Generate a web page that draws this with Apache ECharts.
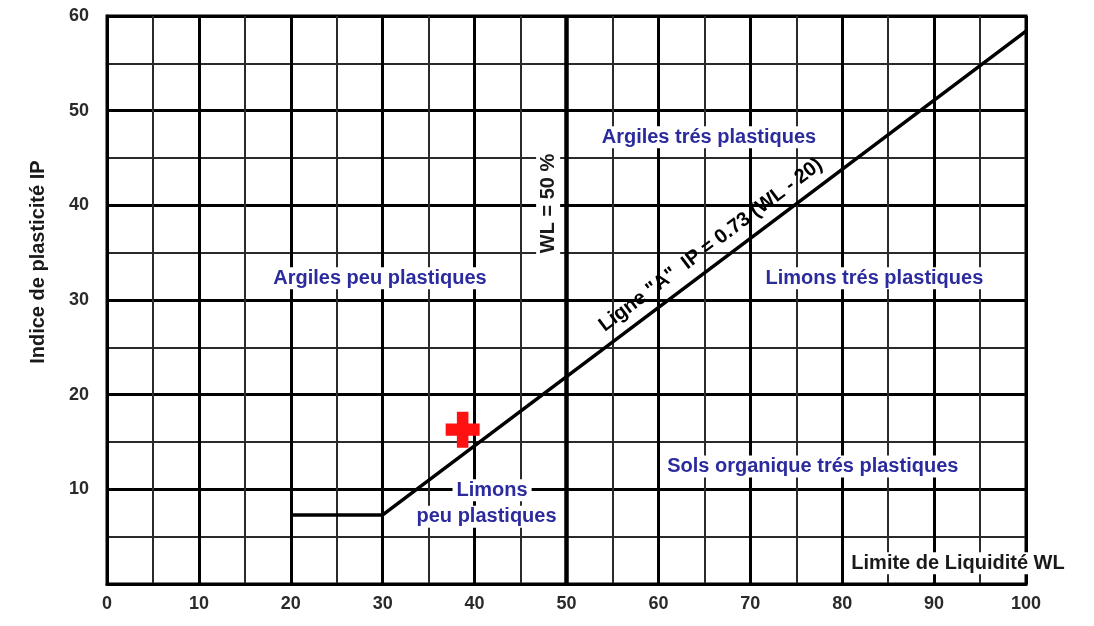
<!DOCTYPE html>
<html><head><meta charset="utf-8">
<script src="https://cdn.jsdelivr.net/npm/echarts@6.0.0/dist/echarts.min.js"></script>
<style>html,body{margin:0;padding:0;background:#fff}#c{width:1094px;height:626px}</style>
</head><body><div id="c"></div>
<script>
// Axis ranges
const xMin = 0, xMax = 100, xStep = 10;
const yMin = 0, yMax = 60, yStep = 10;

// Ligne "A" (with horizontal lower part)
const aLineX = [20, 30, 100];
const aLineY = [7.3, 7.3, 58.4];

// WL = 50 % boundary
const wlLineX = [50, 50];
const wlLineY = [0, 60];

// Sample point (red cross)
const pointX = [38.7];
const pointY = [16.3];

// Zone labels
const zoneText = ['Argiles peu plastiques', 'Argiles trés plastiques', 'Limons trés plastiques',
  'Sols organique trés plastiques', 'Limons', 'peu plastiques'];
const zoneX = [29.7, 65.5, 83.5, 76.8, 41.9, 41.3];
const zoneY = [32.3, 47.2, 32.3, 12.4, 9.9, 7.1];

// Other annotations
const noteText = ['WL = 50 %', 'Ligne "A"  IP = 0.73 (WL - 20)', 'Limite de Liquidité WL'];
const noteX = [48.0, 65.7, 92.6];
const noteY = [40.2, 35.8, 2.2];

const xAxisName = 'Limite de Liquidité WL';
const yAxisName = 'Indice de plasticité IP';

const FONT = '"Liberation Sans", Arial, sans-serif';
const BLUE = '#2b2b9e';

const chart = echarts.init(document.getElementById('c'), null, {renderer: 'canvas'});

const noteStyles = [
  {rotate: 90, color: '#1a1a1a', backgroundColor: '#fff', padding: [2, 3]},
  {rotate: 37, color: '#000', backgroundColor: 'transparent', padding: 0},
  {rotate: 0, color: '#1a1a1a', backgroundColor: '#fff', padding: [1, 3]}
];

const zoneData = zoneX.map((x, i) => ({
  value: [x, zoneY[i]],
  label: {show: true, position: 'inside', formatter: zoneText[i], color: BLUE,
    fontFamily: FONT, fontWeight: 'bold', fontSize: 20,
    backgroundColor: '#fff', padding: [1, 4]}
}));
const noteData = noteX.map((x, i) => ({
  value: [x, noteY[i]],
  label: Object.assign({show: true, position: 'inside', formatter: noteText[i],
    fontFamily: FONT, fontWeight: 'bold', fontSize: 20}, noteStyles[i])
}));

const axisCommon = {
  type: 'value',
  axisLine: {show: true, lineStyle: {color: '#000', width: 3}},
  axisTick: {show: false},
  splitLine: {show: true, lineStyle: {color: '#000', width: 3}},
  minorTick: {show: false, splitNumber: 2},
  minorSplitLine: {show: true, lineStyle: {color: '#2a2a2a', width: 2}},
  axisLabel: {color: '#2a2a2a', fontFamily: FONT, fontWeight: 'bold', fontSize: 18}
};

const hidden = {color: 'rgba(0,0,0,0)', opacity: 1};

chart.setOption({
  animation: false,
  backgroundColor: '#fff',
  grid: {left: 107, top: 16, right: 68, bottom: 42, show: true,
    borderColor: '#000', borderWidth: 3, backgroundColor: 'transparent'},
  xAxis: Object.assign({}, axisCommon, {
    min: xMin, max: xMax, interval: xStep,
    axisLabel: Object.assign({}, axisCommon.axisLabel, {margin: 11})
  }),
  yAxis: Object.assign({}, axisCommon, {
    min: yMin, max: yMax, interval: yStep,
    axisLabel: Object.assign({}, axisCommon.axisLabel, {margin: 18,
      formatter: v => (v === 0 ? '' : String(v))})
  }),
  series: [
    {type: 'line', data: wlLineX.map((x, i) => [x, wlLineY[i]]), symbol: 'none',
      lineStyle: {color: '#000', width: 4.5}, z: 3, silent: true},
    {type: 'line', data: aLineX.map((x, i) => [x, aLineY[i]]), symbol: 'none',
      lineStyle: {color: '#000', width: 3.5}, z: 4, silent: true},
    {type: 'scatter', data: zoneData, symbolSize: 1, itemStyle: hidden, z: 5, silent: true},
    {type: 'scatter', data: noteData, symbolSize: 1, itemStyle: hidden, z: 5, silent: true},
    {type: 'scatter', data: pointX.map((x, i) => [x, pointY[i]]),
      symbol: 'path://M3.3,0H6.7V3.3H10V6.7H6.7V10H3.3V6.7H0V3.3H3.3Z',
      symbolSize: [34, 36], itemStyle: {color: '#ff1111', opacity: 1}, z: 6, silent: true}
  ]
});

// Y-axis title, centred at IP = 34 next to the axis
const yc = chart.convertToPixel({yAxisIndex: 0}, 34);
chart.setOption({
  graphic: [{type: 'text', x: 38, y: yc, rotation: Math.PI / 2,
    style: {text: yAxisName, fill: '#1a1a1a', font: 'bold 20px ' + FONT,
      textAlign: 'center', textVerticalAlign: 'middle'}}]
});
</script>
</body></html>
